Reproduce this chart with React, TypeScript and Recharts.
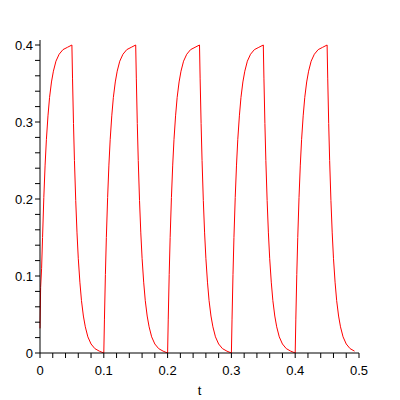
import { LineChart, Line, XAxis, YAxis, Label } from "recharts";

// sample times (t) and values, one row per cycle
const times = [
  0, 0.001, 0.0025, 0.004, 0.006, 0.008, 0.01, 0.0125, 0.015, 0.018, 0.021, 0.025, 0.03, 0.036, 0.043, 0.05,
  0.051, 0.0525, 0.054, 0.056, 0.058, 0.06, 0.0625, 0.065, 0.068, 0.071, 0.075, 0.08, 0.086, 0.093,
  0.1, 0.101, 0.1025, 0.104, 0.106, 0.108, 0.11, 0.1125, 0.115, 0.118, 0.121, 0.125, 0.13, 0.136, 0.143, 0.15,
  0.151, 0.1525, 0.154, 0.156, 0.158, 0.16, 0.1625, 0.165, 0.168, 0.171, 0.175, 0.18, 0.186, 0.193,
  0.2, 0.201, 0.2025, 0.204, 0.206, 0.208, 0.21, 0.2125, 0.215, 0.218, 0.221, 0.225, 0.23, 0.236, 0.243, 0.25,
  0.251, 0.2525, 0.254, 0.256, 0.258, 0.26, 0.2625, 0.265, 0.268, 0.271, 0.275, 0.28, 0.286, 0.293,
  0.3, 0.301, 0.3025, 0.304, 0.306, 0.308, 0.31, 0.3125, 0.315, 0.318, 0.321, 0.325, 0.33, 0.336, 0.343, 0.35,
  0.351, 0.3525, 0.354, 0.356, 0.358, 0.36, 0.3625, 0.365, 0.368, 0.371, 0.375, 0.38, 0.386, 0.393,
  0.4, 0.401, 0.4025, 0.404, 0.406, 0.408, 0.41, 0.4125, 0.415, 0.418, 0.421, 0.425, 0.43, 0.436, 0.443, 0.45,
  0.451, 0.4525, 0.454, 0.456, 0.458, 0.46, 0.4625, 0.465, 0.468, 0.471, 0.475, 0.48, 0.486, 0.493,
];

const values = [
  0.032, 0.085, 0.11, 0.15, 0.202, 0.244, 0.277, 0.308, 0.332, 0.352, 0.366, 0.379, 0.388, 0.394, 0.397, 0.4,
  0.356, 0.298, 0.25, 0.198, 0.156, 0.123, 0.092, 0.068, 0.048, 0.034, 0.021, 0.0117, 0.0057, 0.0024,
  0, 0.044, 0.102, 0.15, 0.202, 0.244, 0.277, 0.308, 0.332, 0.352, 0.366, 0.379, 0.388, 0.394, 0.397, 0.4,
  0.356, 0.298, 0.25, 0.198, 0.156, 0.123, 0.092, 0.068, 0.048, 0.034, 0.021, 0.0117, 0.0057, 0.0024,
  0, 0.044, 0.102, 0.15, 0.202, 0.244, 0.277, 0.308, 0.332, 0.352, 0.366, 0.379, 0.388, 0.394, 0.397, 0.4,
  0.356, 0.298, 0.25, 0.198, 0.156, 0.123, 0.092, 0.068, 0.048, 0.034, 0.021, 0.0117, 0.0057, 0.0024,
  0, 0.044, 0.102, 0.15, 0.202, 0.244, 0.277, 0.308, 0.332, 0.352, 0.366, 0.379, 0.388, 0.394, 0.397, 0.4,
  0.356, 0.298, 0.25, 0.198, 0.156, 0.123, 0.092, 0.068, 0.048, 0.034, 0.021, 0.0117, 0.0057, 0.0024,
  0, 0.044, 0.102, 0.15, 0.202, 0.244, 0.277, 0.308, 0.332, 0.352, 0.366, 0.379, 0.388, 0.394, 0.397, 0.4,
  0.356, 0.298, 0.25, 0.198, 0.156, 0.123, 0.092, 0.068, 0.048, 0.034, 0.021, 0.0117, 0.0057, 0.0024,
];

const xTicks = [
  0, 0.02, 0.04, 0.06, 0.08, 0.1, 0.12, 0.14, 0.16, 0.18, 0.2, 0.22, 0.24,
  0.26, 0.28, 0.3, 0.32, 0.34, 0.36, 0.38, 0.4, 0.42, 0.44, 0.46, 0.48, 0.5,
];
const yTicks = [
  0, 0.02, 0.04, 0.06, 0.08, 0.1, 0.12, 0.14, 0.16, 0.18, 0.2,
  0.22, 0.24, 0.26, 0.28, 0.3, 0.32, 0.34, 0.36, 0.38, 0.4,
];
const majorLabels = ["0", "0.1", "0.2", "0.3", "0.4", "0.5"];

const data = times.map((t, i) => ({ t, v: values[i] }));

const font = "'Liberation Sans', Arial, sans-serif";

const labelFor = (v: number) => {
  const k = Math.round(v * 10);
  return Math.abs(v * 10 - k) < 1e-6 ? majorLabels[k] : null;
};

const XTick = ({ x, y, payload }: any) => {
  const txt = labelFor(payload.value);
  if (!txt) return null;
  return (
    <text x={x} y={y + 15} textAnchor="middle" fontSize={13} fontFamily={font} fill="#000">
      {txt}
    </text>
  );
};

const YTick = ({ x, y, payload }: any) => {
  const txt = labelFor(payload.value);
  if (!txt) return null;
  return (
    <text x={x} y={y + 5} textAnchor="end" fontSize={13} fontFamily={font} fill="#000">
      {txt}
    </text>
  );
};

export default function App() {
  return (
    <div style={{ position: "absolute", left: 0, top: 0, background: "#fff" }}>
      <LineChart width={400} height={400} data={data} margin={{ top: 40, right: 41, bottom: 0, left: 0 }}>
        <XAxis
          dataKey="t"
          type="number"
          domain={[0, 0.5]}
          ticks={xTicks}
          interval={0}
          height={47}
          stroke="#000"
          tickSize={5}
          tick={<XTick />}
        >
          <Label value="t" position="insideBottom" offset={5} fontSize={13} fontFamily={font} fill="#000" />
        </XAxis>
        <YAxis
          type="number"
          domain={[0, 0.4065]}
          ticks={yTicks}
          interval={0}
          width={40}
          stroke="#000"
          tickSize={5}
          tick={<YTick />}
          allowDataOverflow
        />
        <Line
          type="linear"
          dataKey="v"
          stroke="#ff0000"
          strokeWidth={1}
          dot={false}
          isAnimationActive={false}
        />
      </LineChart>
    </div>
  );
}
